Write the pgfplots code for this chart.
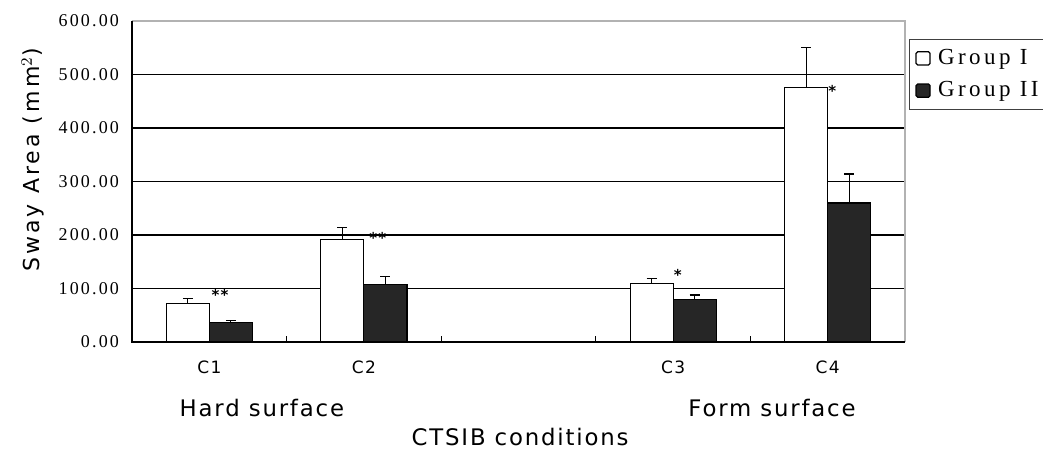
\documentclass[border=0pt]{standalone}
\usepackage{fontspec}
\usepackage{pgfplots}
\pgfplotsset{compat=1.18}
\setmainfont{Liberation Serif}
\newfontfamily\labelfont[LetterSpace=8]{DejaVu Sans}
\newfontfamily\ylabelfont[LetterSpace=14]{DejaVu Sans}
\newfontfamily\tickfont[LetterSpace=12]{Liberation Serif}
\newfontfamily\legendfont[LetterSpace=15]{Liberation Serif}
\definecolor{darkbar}{HTML}{262626}

\begin{document}
\begin{tikzpicture}
% page frame: 1043 x 452 units of 0.5pt, axis box lower-left at the origin
\useasboundingbox (-66pt,-55pt) rectangle (455.5pt,171pt);
\begin{axis}[
  at={(0,0)}, anchor=south west,
  scale only axis, width=386.5pt, height=160.5pt,
  xmin=-0.5, xmax=4.5, ymin=0, ymax=600,
  clip=false,
  axis line style={draw=none},
  tick pos=left,
  xtick={0,1,3,4}, xticklabels={C1,C2,C3,C4},
  major x tick style={draw=none},
  xticklabel style={font=\labelfont\fontsize{8.5}{8.5}\selectfont, anchor=center, yshift=-8.5pt},
  ytick={0,100,...,600},
  major y tick style={draw=none},
  ymajorgrids, grid style={black, line width=0.7pt},
  /pgf/number format/assume math mode=true,
  yticklabel style={font=\tickfont\fontsize{9}{9}\selectfont,
    /pgf/number format/fixed, /pgf/number format/zerofill,
    /pgf/number format/precision=2, xshift=-3pt},
  ybar, bar width=21.5pt,
  legend style={at={(rel axis cs:1.005,0.945)}, anchor=north west,
    draw=black!75, line width=0.6pt, font=\legendfont\fontsize{11.5}{11.5}\selectfont,
    inner xsep=3pt, inner ysep=3pt, row sep=3pt},
  legend cell align=left,
  legend image code/.code={\draw[#1, rounded corners=0.8pt] (0pt,-3.3pt) rectangle (7pt,3.3pt);
    \path[draw=none, fill=none] (0pt,0pt) -- (9pt,0pt);},
  error bars/y dir=plus, error bars/y explicit,
  error bars/error bar style={black, line width=0.6pt},
  error bars/error mark options={rotate=90, mark size=2.5pt, black, line width=0.6pt},
]
\addplot[fill=white, draw=black, line width=0.6pt, bar shift=-10.75pt]
  table[x=x, y=y, y error=e] {
x y e
0 72 10
1 192 22
3 110 9
4 475 76
};
\addlegendentry{Group I}
\addplot[fill=darkbar, draw=black, line width=0.6pt, bar shift=10.75pt]
  table[x=x, y=y, y error=e] {
x y e
0 37 3
1 108 15
3 80 8
4 260 54
};
\addlegendentry{Group II}

% plot-area frame: light on top and right, black on left and bottom
\draw[black!30, line width=0.8pt] (rel axis cs:0,1) -- (rel axis cs:1,1) -- (rel axis cs:1,0);
\draw[black, line width=0.7pt] (rel axis cs:0,1) -- (rel axis cs:0,0) -- (rel axis cs:1,0);
% category separators on the baseline
\pgfplotsinvokeforeach{0.5,1.5,2.5,3.5}{
  \draw[black, line width=0.6pt] (axis cs:#1,0) -- ++(0pt,3pt);
}

% significance marks
\node[font=\labelfont\bfseries\fontsize{7.5}{7.5}\selectfont, inner sep=0pt] at (axis cs:0.07,88) {**};
\node[font=\labelfont\bfseries\fontsize{7.5}{7.5}\selectfont, inner sep=0pt] at (axis cs:1.09,194) {**};
\node[font=\labelfont\bfseries\fontsize{7.5}{7.5}\selectfont, inner sep=0pt] at (axis cs:3.03,125) {*};
\node[font=\labelfont\bfseries\fontsize{7.5}{7.5}\selectfont, inner sep=0pt] at (axis cs:4.03,470) {*};

% surface groups and axis titles
\node[font=\labelfont\fontsize{11.4}{11.4}\selectfont] at (axis cs:0.34,-123) {Hard surface};
\node[font=\labelfont\fontsize{11.4}{11.4}\selectfont] at (axis cs:3.64,-123) {Form surface};
\node[font=\labelfont\fontsize{11.4}{11.4}\selectfont] at (axis cs:2.01,-178) {CTSIB conditions};
\node[font=\ylabelfont\fontsize{11}{11}\selectfont, rotate=90] at ([xshift=-49.5pt]rel axis cs:0,0.567) {Sway Area (mm$^2$)};
\end{axis}
\end{tikzpicture}
\end{document}
